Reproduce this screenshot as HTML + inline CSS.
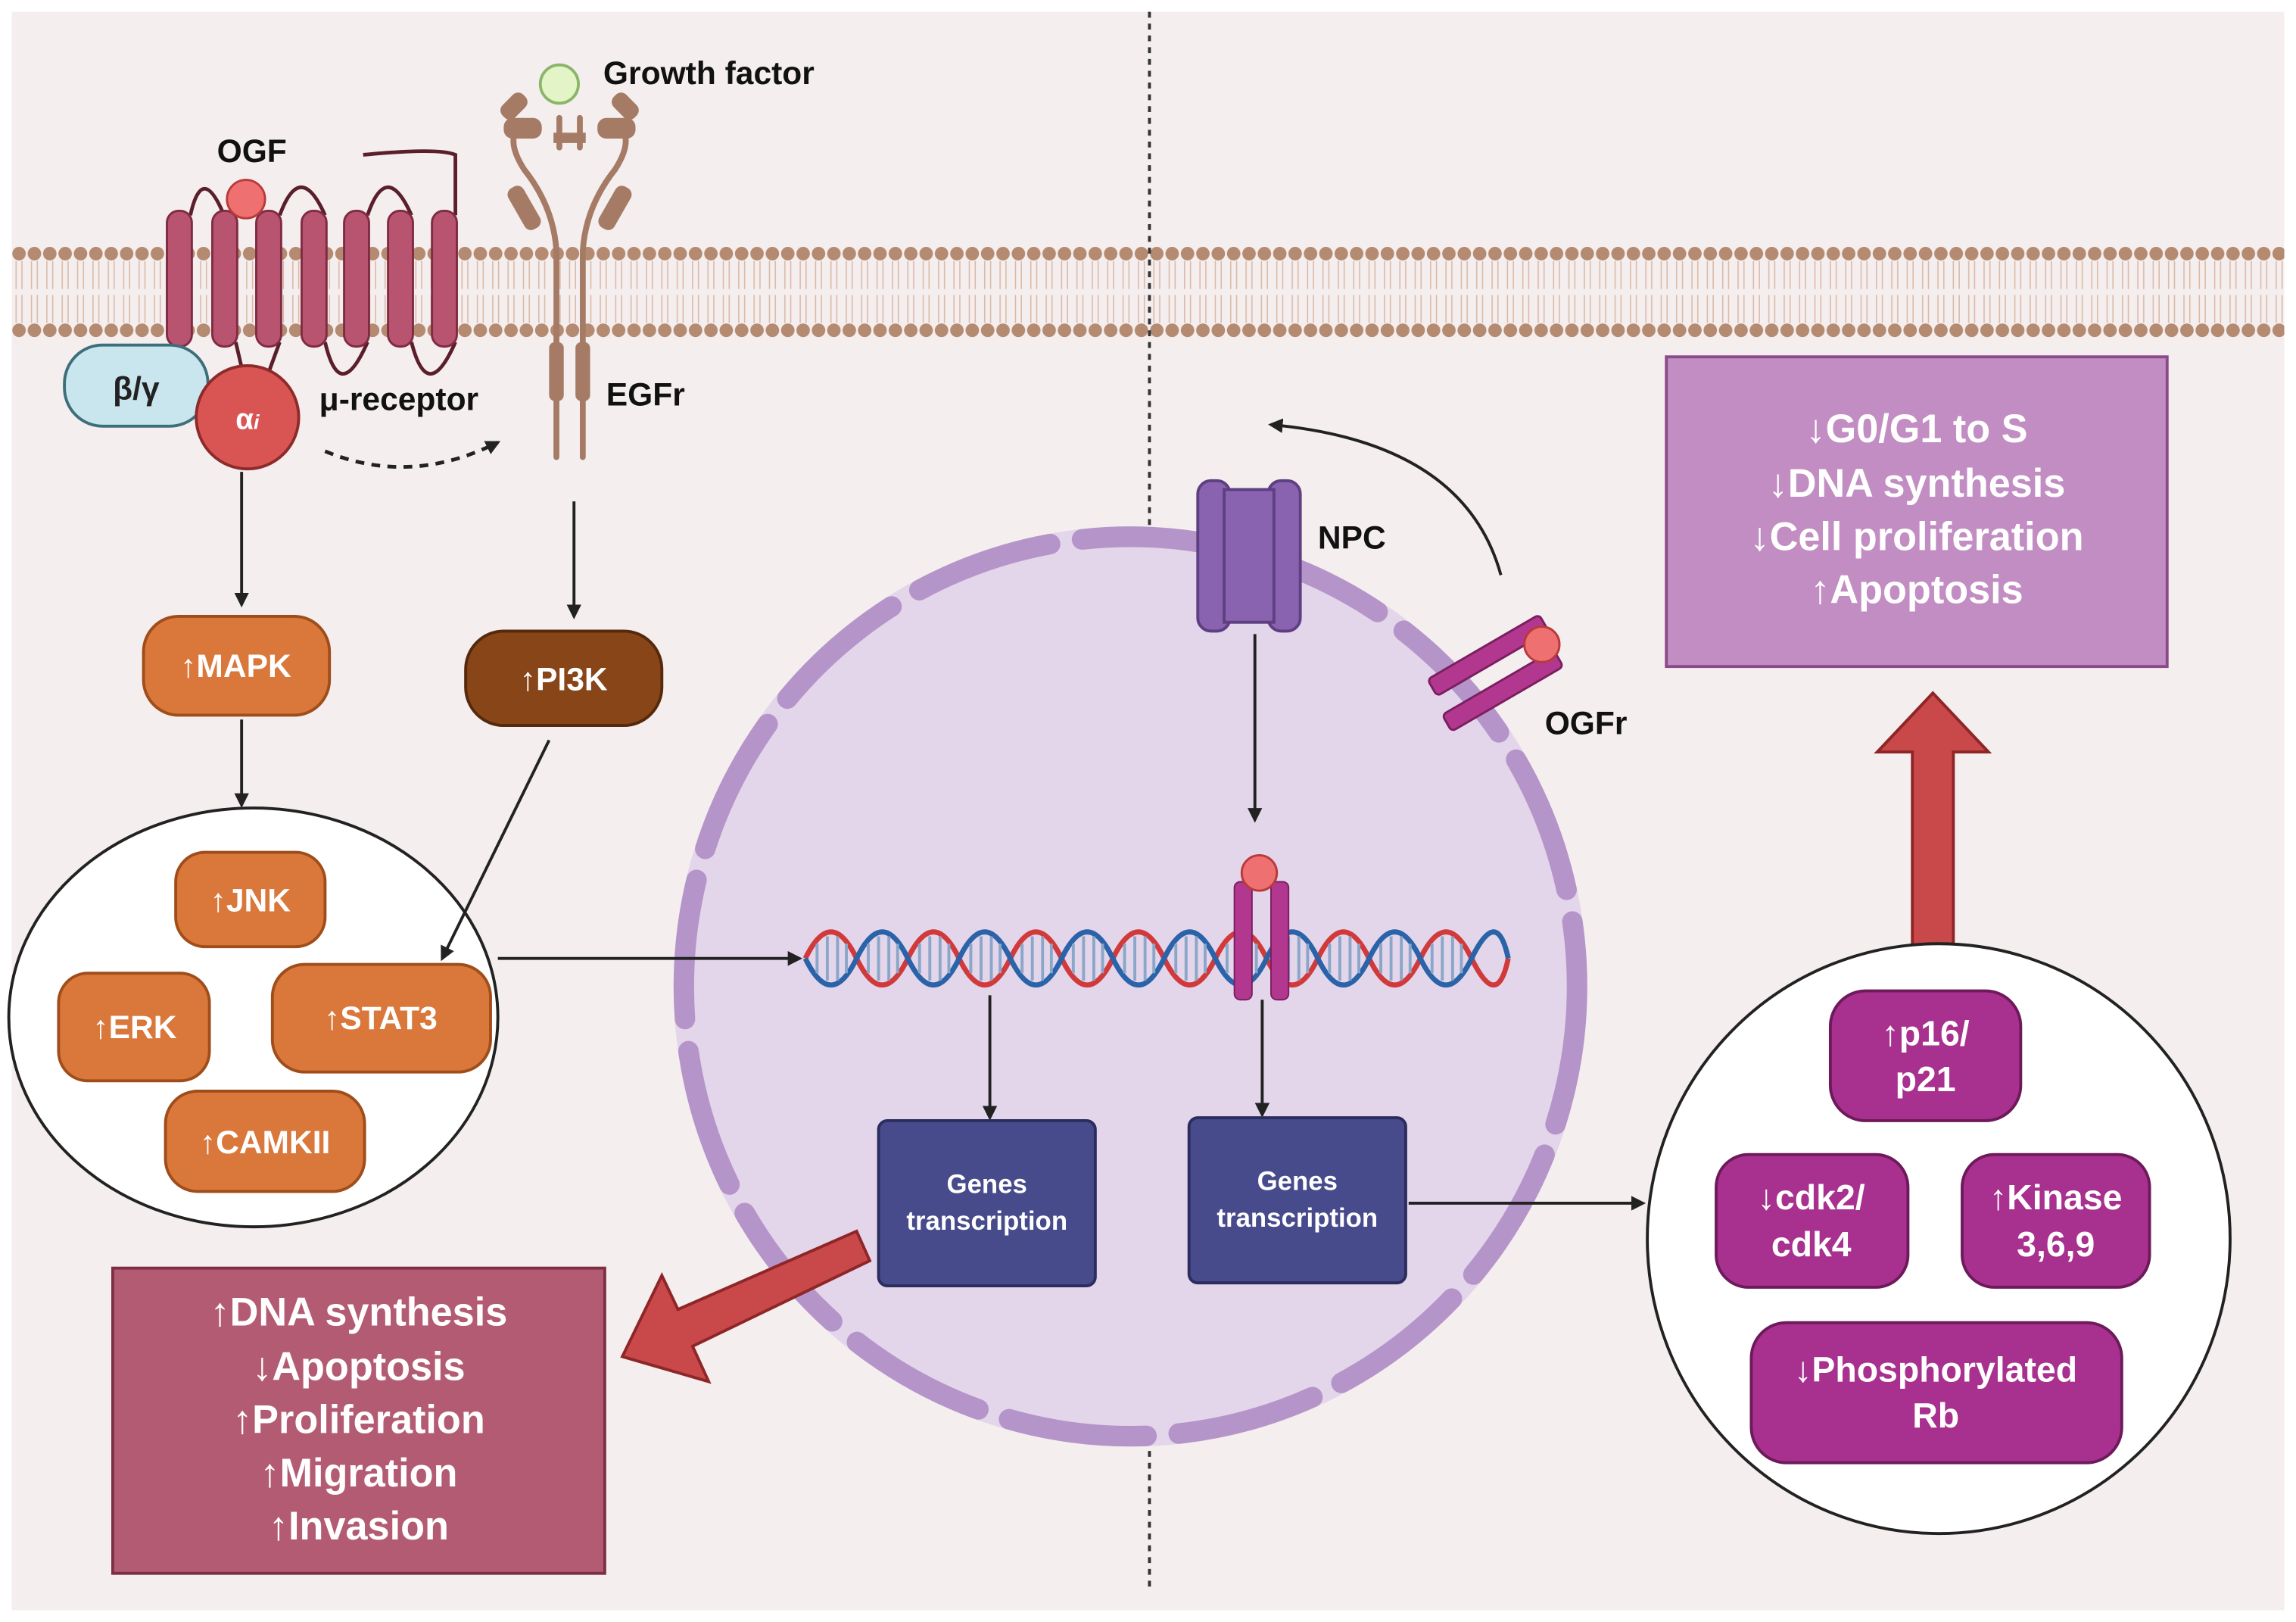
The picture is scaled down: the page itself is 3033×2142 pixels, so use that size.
<!DOCTYPE html>
<html><head><meta charset="utf-8"><style>
html,body{margin:0;padding:0;background:#fff;}
svg{display:block;}
text{font-family:"Liberation Sans",sans-serif;font-weight:bold;}
</style></head><body>
<svg width="3033" height="2142" viewBox="0 0 1568 1100" preserveAspectRatio="none" xmlns="http://www.w3.org/2000/svg">
<defs>
<pattern id="mem" x="8" y="0" width="10.5" height="1100" patternUnits="userSpaceOnUse">
<circle cx="5" cy="172" r="4.6" fill="#b48a70"/>
<circle cx="5" cy="224" r="4.6" fill="#b48a70"/>
<path d="M3 177 L3 196 M7 177 L7 196 M3 200 L3 219 M7 200 L7 219" stroke="#d9b9a6" stroke-width="0.8"/>
</pattern>
<marker id="ah" markerWidth="10" markerHeight="10" refX="8" refY="5" orient="auto" markerUnits="userSpaceOnUse"><path d="M0 0 L10 5 L0 10 Z" fill="#222"/></marker>
</defs>
<rect x="0" y="0" width="1568" height="1100" fill="#fff"/>
<rect x="8" y="8" width="1552" height="1084" fill="#f5eeee"/>
<rect x="8" y="160" width="1552" height="72" fill="url(#mem)"/>
<line x1="785" y1="8" x2="785" y2="1078" stroke="#333" stroke-width="2" stroke-dasharray="4,4"/>

<!-- nucleus -->
<circle cx="772" cy="669" r="312" fill="#e3d5ea"/>
<circle cx="772" cy="669" r="305" fill="none" stroke="#b595c9" stroke-width="14" stroke-dasharray="95,22" stroke-linecap="round"/>

<!-- GPCR -->
<g fill="none" stroke="#5a1f2b" stroke-width="2.5">
<path d="M130 146 Q138 110 153 146"/>
<path d="M191 146 Q205 108 222 146"/>
<path d="M251 146 Q264 108 281 146"/>
<path d="M311 146 L311 105 Q300 100 248 105"/>
<path d="M222 232 Q232 275 251 232"/>
<path d="M281 232 Q292 275 311 232"/>
<path d="M161 232 L168 262 M191 232 L180 262"/>
</g>
<g fill="#b95470" stroke="#7f2b43" stroke-width="1.5">
<rect x="114" y="143" width="17" height="92" rx="8"/>
<rect x="145" y="143" width="17" height="92" rx="8"/>
<rect x="175" y="143" width="17" height="92" rx="8"/>
<rect x="206" y="143" width="17" height="92" rx="8"/>
<rect x="235" y="143" width="17" height="92" rx="8"/>
<rect x="265" y="143" width="17" height="92" rx="8"/>
<rect x="295" y="143" width="17" height="92" rx="8"/>
</g>
<circle cx="168" cy="135" r="13" fill="#ef7070" stroke="#b83a3a" stroke-width="1.5"/>
<text x="172" y="110" font-size="22" text-anchor="middle" fill="#111">OGF</text>
<rect x="44" y="234" width="98" height="55" rx="26" fill="#c9e6ef" stroke="#3d6f7a" stroke-width="2"/>
<text x="93" y="271" font-size="22" text-anchor="middle" fill="#222" font-weight="normal">β/γ</text>
<circle cx="169" cy="283" r="35" fill="#d85553" stroke="#8e2a2a" stroke-width="2"/>
<text x="169" y="291" font-size="20" text-anchor="middle" fill="#fff">α<tspan font-size="14" font-style="italic">i</tspan></text>
<text x="218" y="278" font-size="22" fill="#111">μ-receptor</text>
<path d="M222 306 Q280 330 340 300" fill="none" stroke="#222" stroke-width="2.5" stroke-dasharray="6,5" marker-end="url(#ah)"/>

<!-- EGFr -->
<g stroke="#a57b66" stroke-width="4" fill="none" stroke-linecap="round">
<path d="M380 310 L380 170 Q378 140 358 115 Q345 95 355 85"/>
<path d="M398 310 L398 170 Q400 140 420 115 Q433 95 423 85"/>
<path d="M382 100 L382 80 M396 100 L396 80"/>
</g>
<g fill="#a57b66">
<rect x="352" y="125" width="12" height="32" rx="5" transform="rotate(-30 358 141)"/>
<rect x="414" y="125" width="12" height="32" rx="5" transform="rotate(30 420 141)"/>
<rect x="344" y="80" width="26" height="14" rx="6"/>
<rect x="408" y="80" width="26" height="14" rx="6"/>
<rect x="345" y="62" width="12" height="20" rx="5" transform="rotate(45 351 72)"/>
<rect x="421" y="62" width="12" height="20" rx="5" transform="rotate(-45 427 72)"/>
<rect x="375" y="232" width="10" height="40" rx="4"/>
<rect x="393" y="232" width="10" height="40" rx="4"/>
<rect x="378" y="90" width="22" height="7"/>
</g>
<circle cx="382" cy="57" r="13" fill="#e3f5c7" stroke="#8ab56a" stroke-width="2"/>
<text x="412" y="57" font-size="22" fill="#111">Growth factor</text>
<text x="414" y="275" font-size="22" fill="#111">EGFr</text>

<!-- arrows -->
<g stroke="#222" stroke-width="2" marker-end="url(#ah)">
<line x1="165" y1="320" x2="165" y2="410"/>
<line x1="392" y1="340" x2="392" y2="418"/>
<line x1="165" y1="488" x2="165" y2="546"/>
<line x1="340" y1="650" x2="546" y2="650"/>
<line x1="676" y1="675" x2="676" y2="758"/>
<line x1="857" y1="430" x2="857" y2="556"/>
<line x1="862" y1="678" x2="862" y2="756"/>
<line x1="962" y1="816" x2="1122" y2="816"/>
</g>

<rect x="98" y="418" width="127" height="67" rx="24" fill="#d9783a" stroke="#9f4d1a" stroke-width="2"/>
<text x="161" y="459" font-size="22" text-anchor="middle" fill="#fff">↑MAPK</text>
<rect x="318" y="428" width="134" height="64" rx="26" fill="#874518" stroke="#55290b" stroke-width="2"/>
<text x="385" y="468" font-size="22" text-anchor="middle" fill="#fff">↑PI3K</text>

<ellipse cx="173" cy="690" rx="167" ry="142" fill="#fff" stroke="#222" stroke-width="2"/>
<line x1="375" y1="502" x2="302" y2="650" stroke="#222" stroke-width="2" marker-end="url(#ah)"/>
<g fill="#d9783a" stroke="#9f4d1a" stroke-width="2">
<rect x="120" y="578" width="102" height="64" rx="20"/>
<rect x="40" y="660" width="103" height="73" rx="20"/>
<rect x="186" y="654" width="149" height="73" rx="22"/>
<rect x="113" y="740" width="136" height="68" rx="22"/>
</g>
<g font-size="22" text-anchor="middle" fill="#fff">
<text x="171" y="618">↑JNK</text>
<text x="92" y="704">↑ERK</text>
<text x="260" y="698">↑STAT3</text>
<text x="181" y="782">↑CAMKII</text>
</g>

<!-- DNA -->
<g fill="none" stroke-width="3.5">
<path d="M550 650 q17.5 -36 35 0 t35 0 t35 0 t35 0 t35 0 t35 0 t35 0 t35 0 t35 0 t35 0 t35 0 t35 0 t35 0 t25 0" stroke="#d13a3a"/>
<path d="M550 650 q17.5 36 35 0 t35 0 t35 0 t35 0 t35 0 t35 0 t35 0 t35 0 t35 0 t35 0 t35 0 t35 0 t35 0 t25 0" stroke="#2a63a8"/>
</g>
<g stroke="#8aa6c8" stroke-width="2">
<path d="M558 640v20M565 635v30M572 635v30M578 640v20M593 640v20M600 635v30M607 635v30M613 640v20M628 640v20M635 635v30M642 635v30M648 640v20M663 640v20M670 635v30M677 635v30M683 640v20M698 640v20M705 635v30M712 635v30M718 640v20M733 640v20M740 635v30M747 635v30M753 640v20M768 640v20M775 635v30M782 635v30M788 640v20M803 640v20M810 635v30M817 635v30M823 640v20M838 640v20M845 635v30M852 635v30M858 640v20M873 640v20M880 635v30M887 635v30M893 640v20M908 640v20M915 635v30M922 635v30M928 640v20M943 640v20M950 635v30M957 635v30M963 640v20M978 640v20M985 635v30M992 635v30M998 640v20"/>
</g>
<rect x="843" y="598" width="12" height="80" rx="4" fill="#b2388f" stroke="#7a1f60"/>
<rect x="868" y="598" width="12" height="80" rx="4" fill="#b2388f" stroke="#7a1f60"/>
<circle cx="860" cy="592" r="12" fill="#ef7070" stroke="#b83a3a" stroke-width="1.5"/>

<!-- NPC -->
<g fill="#8a63b0" stroke="#5e3f82" stroke-width="2">
<rect x="818" y="326" width="22" height="102" rx="9"/>
<rect x="866" y="326" width="22" height="102" rx="9"/>
<rect x="836" y="332" width="34" height="90"/>
</g>
<text x="900" y="372" font-size="22" fill="#111">NPC</text>
<path d="M1025 390 Q1000 300 868 288" fill="none" stroke="#222" stroke-width="2" marker-end="url(#ah)"/>
<g fill="#b2388f" stroke="#7a1f60" stroke-width="1.5">
<rect x="972" y="438" width="88" height="13" rx="3" transform="rotate(-30 1016 444)"/>
<rect x="982" y="462" width="88" height="13" rx="3" transform="rotate(-30 1026 468)"/>
</g>
<circle cx="1053" cy="437" r="12" fill="#ef7070" stroke="#b83a3a" stroke-width="1.5"/>
<text x="1055" y="498" font-size="22" fill="#111">OGFr</text>

<rect x="600" y="760" width="148" height="112" rx="6" fill="#474a8b" stroke="#2b2d5e" stroke-width="2"/>
<text x="674" y="809" font-size="18" text-anchor="middle" fill="#fff">Genes</text>
<text x="674" y="834" font-size="18" text-anchor="middle" fill="#fff">transcription</text>
<rect x="812" y="758" width="148" height="112" rx="6" fill="#474a8b" stroke="#2b2d5e" stroke-width="2"/>
<text x="886" y="807" font-size="18" text-anchor="middle" fill="#fff">Genes</text>
<text x="886" y="832" font-size="18" text-anchor="middle" fill="#fff">transcription</text>

<path d="M585 835 L594 855 L473 913 L484 937 L425 920 L452 865 L463 888 Z" fill="#c9484a" stroke="#8e2628" stroke-width="2"/>
<path d="M1306 660 L1306 510 L1282 510 L1320 470 L1358 510 L1334 510 L1334 660 Z" fill="#c9484a" stroke="#8e2628" stroke-width="2"/>

<rect x="77" y="860" width="336" height="207" fill="#b35b73" stroke="#7e2e44" stroke-width="2"/>
<g font-size="27" text-anchor="middle" fill="#fff">
<text x="245" y="899">↑DNA synthesis</text>
<text x="245" y="936">↓Apoptosis</text>
<text x="245" y="972">↑Proliferation</text>
<text x="245" y="1008">↑Migration</text>
<text x="245" y="1044">↑Invasion</text>
</g>

<rect x="1138" y="242" width="342" height="210" fill="#c18dc2" stroke="#8b4a8a" stroke-width="2"/>
<g font-size="27" text-anchor="middle" fill="#fff">
<text x="1309" y="300">↓G0/G1 to S</text>
<text x="1309" y="337">↓DNA synthesis</text>
<text x="1309" y="373">↓Cell proliferation</text>
<text x="1309" y="409">↑Apoptosis</text>
</g>

<ellipse cx="1324" cy="840" rx="199" ry="200" fill="#fff" stroke="#222" stroke-width="2"/>
<g fill="#a8308e" stroke="#6d1a5b" stroke-width="2">
<rect x="1250" y="672" width="130" height="88" rx="24"/>
<rect x="1172" y="783" width="131" height="90" rx="22"/>
<rect x="1340" y="783" width="128" height="90" rx="22"/>
<rect x="1196" y="897" width="253" height="95" rx="24"/>
</g>
<g font-size="24" text-anchor="middle" fill="#fff">
<text x="1315" y="709">↑p16/</text>
<text x="1315" y="740">p21</text>
<text x="1237" y="820">↓cdk2/</text>
<text x="1237" y="852">cdk4</text>
<text x="1404" y="820">↑Kinase</text>
<text x="1404" y="852">3,6,9</text>
<text x="1322" y="937">↓Phosphorylated</text>
<text x="1322" y="968">Rb</text>
</g>
</svg>
</body></html>
